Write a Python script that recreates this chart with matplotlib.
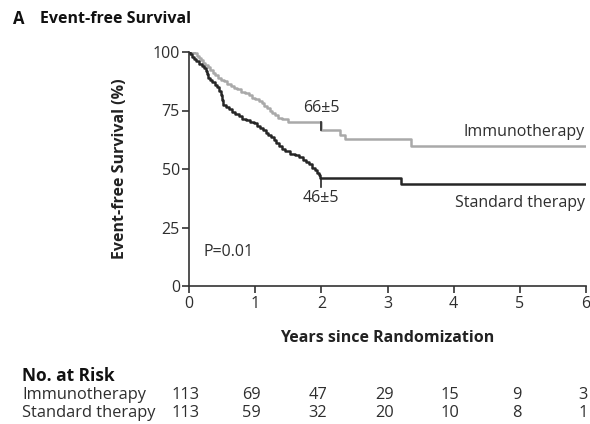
import matplotlib
matplotlib.use("Agg")
import matplotlib.pyplot as plt
import matplotlib.transforms as mtransforms

plt.rcParams['font.family'] = ['Open Sans', 'DejaVu Sans']

# ---- data ----
immuno_t = [0, 0.08, 0.12, 0.15, 0.18, 0.21, 0.24, 0.28, 0.32, 0.36, 0.40,
            0.44, 0.48, 0.53, 0.58, 0.63, 0.68, 0.73, 0.78, 0.84, 0.90,
            0.95, 1.00, 1.06, 1.10, 1.14, 1.18, 1.22, 1.26, 1.30, 1.35,
            1.40, 1.50, 2.00, 2.28, 2.36, 3.36, 6.0]
immuno_s = [100, 99.5, 98.5, 97.5, 96.5, 95.5, 94.5, 93.5, 92.5, 91, 90,
            89, 88, 87.5, 86.5, 85.5, 84.5, 84, 83, 82.5, 81.5,
            80.5, 80, 79, 78, 77, 76, 75, 74, 73, 72,
            71.5, 70.2, 66.5, 64.5, 63, 60, 60]
std_t = [0, 0.02, 0.05, 0.08, 0.11, 0.15, 0.19, 0.22, 0.25, 0.27, 0.29,
         0.32, 0.35, 0.39, 0.43, 0.46, 0.48, 0.50, 0.52, 0.56, 0.60,
         0.65, 0.70, 0.75, 0.80, 0.86, 0.92, 0.98, 1.03, 1.08, 1.12,
         1.16, 1.20, 1.24, 1.28, 1.32, 1.36, 1.40, 1.45, 1.52, 1.60,
         1.67, 1.72, 1.77, 1.82, 1.86, 1.90, 1.93, 1.96, 1.98, 3.21, 6.0]
std_s = [100, 99, 98, 97, 96, 95, 94, 93, 92, 90.5, 89,
         88, 87, 86, 85, 83.5, 81.5, 79.5, 77.5, 76.5, 75.5,
         74.5, 73.5, 72.5, 71.5, 71, 70.2, 69.5, 68.5, 67.5, 66.5,
         65.5, 64.5, 63.5, 62.5, 61, 60, 58.5, 57.5, 56.5, 55.8,
         55, 54, 53, 52, 50.5, 49.5, 48.5, 47.5, 46.2, 43.5, 43.5]

x_ticks = [0, 1, 2, 3, 4, 5, 6]
y_ticks = [0, 25, 50, 75, 100]
risk_groups = ["Immunotherapy", "Standard therapy"]
risk_immuno = [113, 69, 47, 29, 15, 9, 3]
risk_std = [113, 59, 32, 20, 10, 8, 1]
mark_time = 2
immuno_mark = "66\u00b15"
std_mark = "46\u00b15"

# ---- figure ----
W, H = 590, 424
fig = plt.figure(figsize=(W / 100, H / 100), dpi=100)
ax = fig.add_axes([189 / W, 1 - 286 / H, 397 / W, 234 / H])

gray = "#a9a9a9"
dark = "#262626"
txt = "#2e2e2e"
ax.step(immuno_t, immuno_s, where="post", color=gray, lw=1.8)
ax.step(std_t, std_s, where="post", color=dark, lw=1.8)

# markers at 2 years
ax.plot([mark_time, mark_time], [70.2, 66.5], color=dark, lw=1.2)
ax.plot([mark_time, mark_time], [46.2, 42.5], color=dark, lw=1.2)
ax.text(mark_time, 72.5, immuno_mark, ha="center", va="bottom", fontsize=11.5, color=txt)
ax.text(mark_time, 41, std_mark, ha="center", va="top", fontsize=11.5, color=txt)

ax.text(5.98, 66, "Immunotherapy", ha="right", va="center", fontsize=11.5, color=txt)
ax.text(5.98, 35.5, "Standard therapy", ha="right", va="center", fontsize=11.5, color=txt)
ax.text(0.22, 14.5, "P=0.01", ha="left", va="center", fontsize=11.5, color=txt)

ax.set_xlim(0, 6)
ax.set_ylim(0, 100)
ax.set_xticks(x_ticks)
ax.set_yticks(y_ticks)
ax.set_xticklabels([str(v) for v in x_ticks])
ax.set_yticklabels([str(v) for v in y_ticks])
for s in ["top", "right"]:
    ax.spines[s].set_visible(False)
for s in ["left", "bottom"]:
    ax.spines[s].set_color("#333333")
    ax.spines[s].set_linewidth(1.2)
ax.tick_params(axis="both", direction="out", length=5, width=1.2, colors="#333333",
               labelsize=11.5, pad=1.5)
ax.tick_params(axis="x", pad=2.5)
for lbl in ax.get_xticklabels() + ax.get_yticklabels():
    lbl.set_color(txt)

fig.text(120 / W, 1 - 169 / H, "Event-free Survival (%)", rotation=90, ha="center",
         va="center", fontsize=11.5, fontweight="bold", color="#222222")
fig.text(387 / W, 1 - 338 / H, "Years since Randomization", ha="center", va="center",
         fontsize=11.5, fontweight="bold", color="#222222")

fig.text(13 / W, 1 - 19 / H, "A", ha="left", va="center", fontsize=12,
         fontweight="bold", color="#111111")
fig.text(40 / W, 1 - 19 / H, "Event-free Survival", ha="left", va="center",
         fontsize=11.5, fontweight="bold", color="#111111")

# risk table
fig.text(22 / W, 1 - 376 / H, "No. at Risk", ha="left", va="center", fontsize=12.5,
         fontweight="bold", color="#111111")
trans = mtransforms.blended_transform_factory(ax.transData, fig.transFigure)
rows_y = [1 - 395 / H, 1 - 413 / H]
for name, vals, yy in zip(risk_groups, [risk_immuno, risk_std], rows_y):
    fig.text(22 / W, yy, name, ha="left", va="center", fontsize=11.8, color=txt)
    for t, v in zip(x_ticks, vals):
        fig.text(t - 0.05, yy, str(v), ha="center", va="center", fontsize=11.8,
                 color=txt, transform=trans)

fig.savefig("out.png", dpi=100)
